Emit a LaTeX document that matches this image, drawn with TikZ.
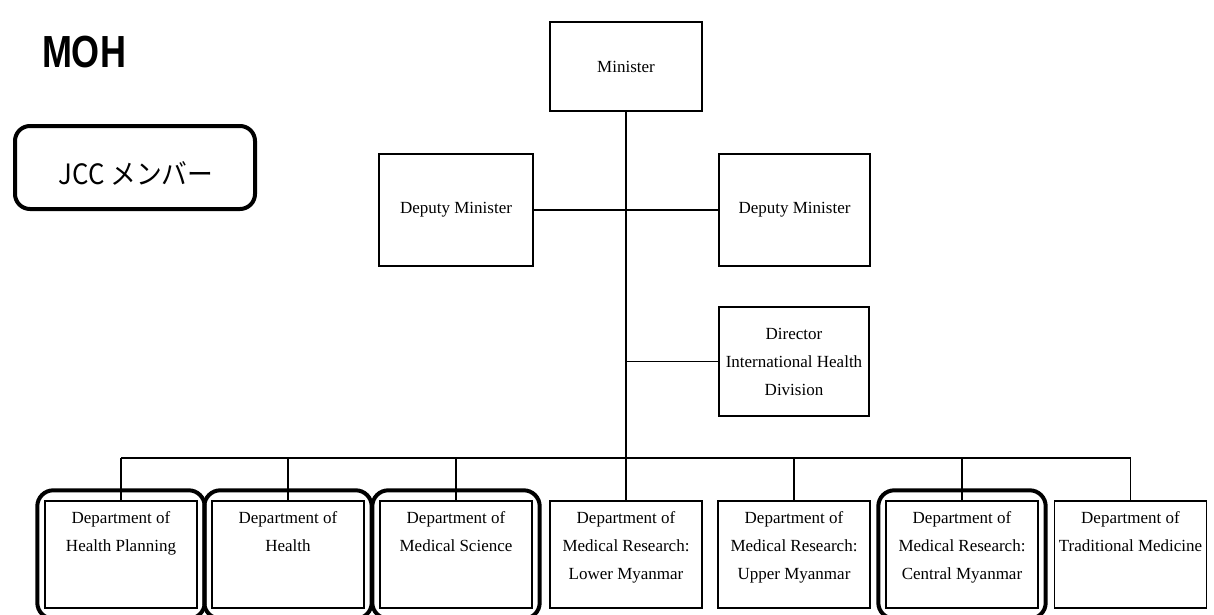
\documentclass[tikz,border=0pt]{standalone}
\usepackage{fontspec}
\setmainfont{Liberation Serif}
\newfontfamily\sansf{Liberation Sans}
\newfontfamily\cjkf{Noto Sans CJK JP}
\usepackage{graphicx}
\usetikzlibrary{fit}
\newcommand\dtext[1]{\begin{minipage}[c][107pt][t]{152pt}\centering\fontsize{17}{28}\selectfont\vspace*{11pt}#1\end{minipage}}
\begin{document}
\begin{tikzpicture}[x=1pt,y=-1pt,
  box/.style={draw, line width=1.4pt, inner sep=0pt, align=center, font=\fontsize{17}{28}\selectfont},
  dept/.style={draw, line width=1.4pt, inner sep=0pt},
  conn/.style={line width=1.4pt},
  hl/.style={draw, line width=4pt, rounded corners=16pt, inner xsep=7pt, inner ysep=10pt}]
\fill[white] (0,0) rectangle (1214,615);
\useasboundingbox (0,0) rectangle (1214,615);

\node (moh) at (84,52) {\sansf\bfseries\fontsize{45}{45}\selectfont\scalebox{0.8}[1]{MOH}};
\node[draw, line width=4pt, rounded corners=15pt, minimum width=240, minimum height=83] (jcc) at (135,167.5) {};
\node[font=\cjkf\fontsize{28}{28}\selectfont] (jcct) at (136,173) {\scalebox{0.92}[1]{JCC メンバー}};

\node[box, minimum width=152, minimum height=89] (min) at (626,66.5) {Minister};
\node[box, minimum width=154, minimum height=112] (dl) at (456,210) {Deputy Minister};
\node[box, minimum width=151, minimum height=112] (dr) at (794.5,210) {Deputy Minister};
\node[box, minimum width=150, minimum height=109] (dir) at (794,361.5) {Director\\International Health\\Division};

\node[dept] (d1) at (121,554.5) {\dtext{Department of\\Health Planning}};
\node[dept] (d2) at (288,554.5) {\dtext{Department of\\Health}};
\node[dept] (d3) at (456,554.5) {\dtext{Department of\\Medical Science}};
\node[dept] (d4) at (626,554.5) {\dtext{Department of\\Medical Research:\\Lower Myanmar}};
\node[dept] (d5) at (794,554.5) {\dtext{Department of\\Medical Research:\\Upper Myanmar}};
\node[dept] (d6) at (962,554.5) {\dtext{Department of\\Medical Research:\\Central Myanmar}};
\node[dept] (d7) at (1130.5,554.5) {\dtext{Department of\\Traditional Medicine}};

\node[hl, fit=(d1)] (h1) {};
\node[hl, fit=(d2)] (h2) {};
\node[hl, fit=(d3)] (h3) {};
\node[hl, fit=(d6)] (h6) {};

\coordinate (bus) at (626,458);
\draw[conn] (min.south) -- (bus);
\draw[conn] (dl.east) -- (dr.west);
\draw[conn] (dir.west) -- (dir.west -| min.south);
\draw[conn] (d1.north |- bus) -- (d7.north |- bus);
\foreach \i in {1,...,7}{\draw[conn] (d\i.north |- bus) -- (d\i.north);}
\end{tikzpicture}
\end{document}
